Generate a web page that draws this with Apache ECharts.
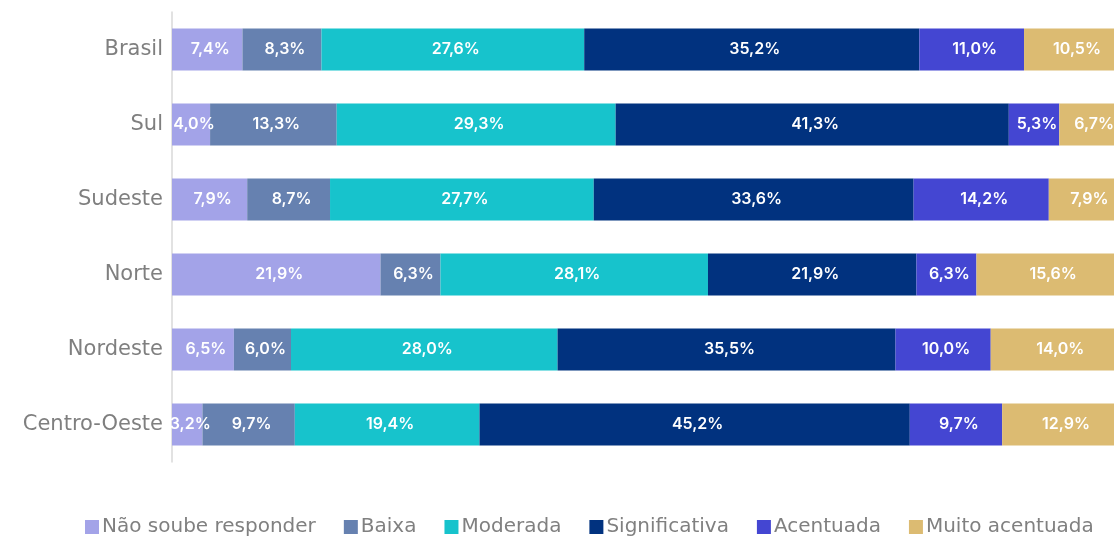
<!DOCTYPE html>
<html>
<head>
    <meta charset="UTF-8">
    <title>Percepção por região</title>
    <style>
        html, body { margin: 0; padding: 0; background: #fff; }
        #chart { width: 1114px; height: 536px; }
    </style>
    <script src="https://cdn.jsdelivr.net/npm/echarts@6/dist/echarts.min.js"></script>
</head>
<body>
    <div id="chart"></div>
    <script type="text/javascript">
        var regioes = ['Brasil', 'Sul', 'Sudeste', 'Norte', 'Nordeste', 'Centro-Oeste'];
        var naoSoube = [7.4, 4.0, 7.9, 21.9, 6.5, 3.2];
        var baixa = [8.3, 13.3, 8.7, 6.3, 6.0, 9.7];
        var moderada = [27.6, 29.3, 27.7, 28.1, 28.0, 19.4];
        var significativa = [35.2, 41.3, 33.6, 21.9, 35.5, 45.2];
        var acentuada = [11.0, 5.3, 14.2, 6.3, 10.0, 9.7];
        var muitoAcentuada = [10.5, 6.7, 7.9, 15.6, 14.0, 12.9];

        var nomes = ['Não soube responder', 'Baixa', 'Moderada', 'Significativa', 'Acentuada', 'Muito acentuada'];
        var cores = ['#a3a3e8', '#6681b0', '#17c3cc', '#01327f', '#4446d2', '#dcbb72'];
        var valores = [naoSoube, baixa, moderada, significativa, acentuada, muitoAcentuada];

        var fonte = '"DejaVu Sans", sans-serif';

        var series = nomes.map(function (nome, i) {
            return {
                name: nome,
                type: 'bar',
                stack: 'total',
                barWidth: 42,
                data: valores[i],
                itemStyle: { color: cores[i] },
                label: {
                    show: true,
                    position: 'inside',
                    offset: [3, 0],
                    color: '#fff',
                    fontFamily: 'Inter, sans-serif',
                    fontWeight: 600,
                    fontSize: 16,
                    formatter: function (p) {
                        return p.value.toFixed(1).replace('.', ',') + '%';
                    }
                }
            };
        });

        var myChart = echarts.init(document.getElementById('chart'));
        var option = {
            animation: false,
            grid: {
                left: 172,
                top: 12,
                width: 952,
                height: 450,
                outerBoundsMode: 'none'
            },
            legend: {
                data: nomes,
                top: 512,
                left: 80,
                itemWidth: 14,
                itemHeight: 14,
                itemGap: 28,
                icon: 'rect',
                textStyle: {
                    color: '#808080',
                    fontSize: 20,
                    fontFamily: fonte,
                    padding: [0, 0, 0, -2]
                }
            },
            xAxis: {
                type: 'value',
                min: 0,
                max: 100,
                show: false
            },
            yAxis: {
                type: 'category',
                data: regioes,
                inverse: true,
                axisLine: { lineStyle: { color: '#d9d9d9', width: 1.5 } },
                axisTick: { show: false },
                axisLabel: {
                    color: '#7f7f7f',
                    fontSize: 21,
                    fontFamily: fonte,
                    margin: 9
                }
            },
            series: series
        };
        myChart.setOption(option);
    </script>
</body>
</html>
